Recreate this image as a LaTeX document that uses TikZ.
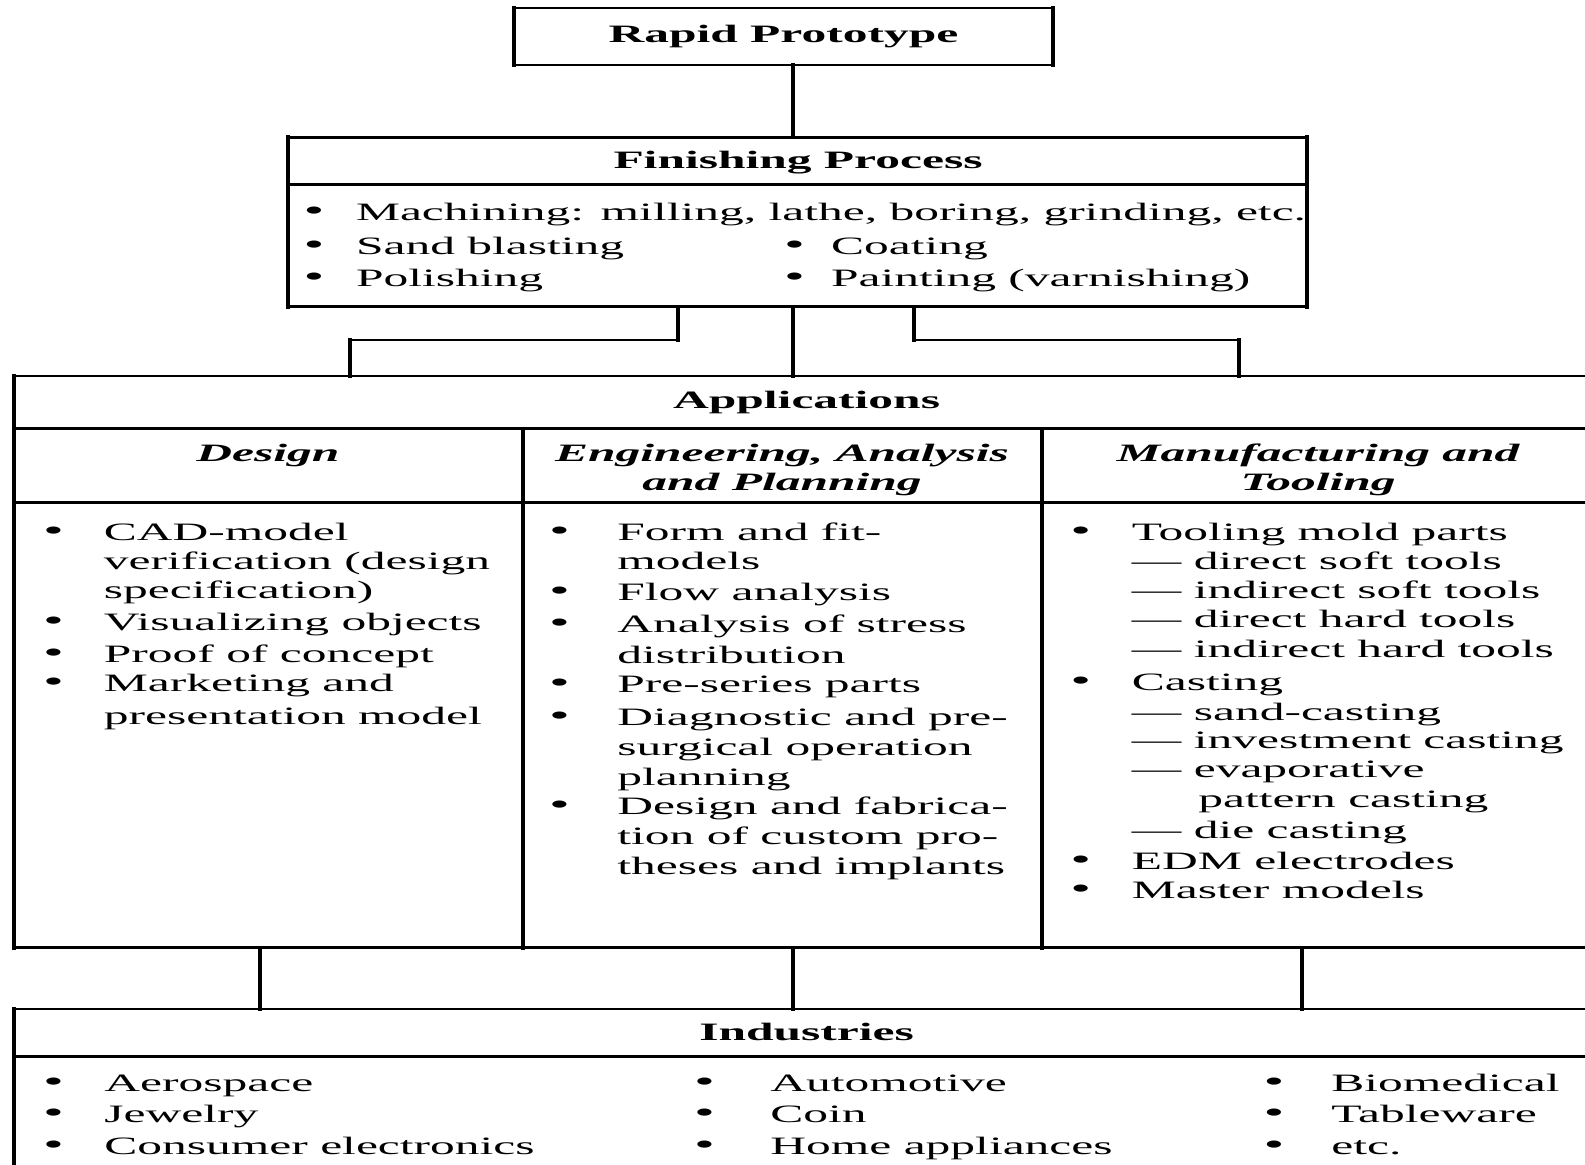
\documentclass[tikz,border=0pt]{standalone}
\usepackage{fontspec}
\setmainfont{Liberation Serif}[FakeStretch=1.98]
\newcommand{\diagfont}{\fontsize{12.5}{14.6}\selectfont}
\tikzset{
  hl/.style={line width=1.2pt, line cap=rect},
  vl/.style={line width=2pt, line cap=rect},
  box/.style={draw, hl, inner sep=0pt, outer sep=0pt},
  txt/.style={inner sep=0pt, anchor=mid west, yshift=-2.2pt, font=\diagfont},
  dot/.style={inner sep=0pt, anchor=mid, yshift=-2.2pt, font=\diagfont},
  blt/.style={dot, font=\fontsize{15}{15}\selectfont},
  ttl/.style={dot, font=\diagfont\bfseries},
  hdr/.style={dot, font=\diagfont\bfseries\itshape},
}
\begin{document}
\begin{tikzpicture}[x=0.5pt, y=-0.5pt]
\useasboundingbox (0,0) rectangle (1585,1164);
\clip (0,0) rectangle (1585,1164);

% Rapid Prototype
\node[box, font=\diagfont\bfseries, minimum width=269.9pt, minimum height=28.3pt] (rp) at (783.4,36.4) {Rapid Prototype};
\draw[vl] (rp.north west) -- (rp.south west) (rp.north east) -- (rp.south east);

% Finishing Process
\node[box, minimum width=509.5pt, minimum height=84.6pt] (fin) at (797.5,222) {};
\draw[vl] (fin.north west) -- (fin.south west) (fin.north east) -- (fin.south east);
\draw[hl] (fin.north west) ++(0,47) -- ++(1019,0);
\node[ttl] (fintitle) at (798,160) {Finishing Process};
\node[blt] (finb1) at (314,211.7) {\textbullet};
\node[txt] (fin1) at (355.6,211.7) {Machining: milling, lathe, boring, grinding, etc.};
\node[blt] (finb2) at (314,245) {\textbullet};
\node[txt] (fin2) at (355.6,245) {Sand blasting};
\node[blt] (finb3) at (314,277.3) {\textbullet};
\node[txt] (fin3) at (355.6,277.3) {Polishing};
\node[blt] (finb4) at (794.5,245) {\textbullet};
\node[txt] (fin4) at (830.6,245) {Coating};
\node[blt] (finb5) at (794.5,277.3) {\textbullet};
\node[txt] (fin5) at (830.6,277.3) {Painting (varnishing)};

% Applications
\node[box, minimum width=792.9pt, minimum height=285.75pt] (app) at (807.1,661.75) {};
\draw[vl] (app.north west) -- (app.south west);
\draw[hl] (app.north west) ++(0,52.6) -- ++(1585.8,0);
\draw[hl] (app.north west) ++(0,126.4) -- ++(1585.8,0);
\draw[vl] (522.6,428.6) -- (522.6,947.5);
\draw[vl] (1042,428.6) -- (1042,947.5);
\node[ttl] (apptitle) at (806.6,399) {Applications};
\node[hdr] (deshead) at (268,452) {Design};
\node[hdr] (enghead1) at (782,452) {Engineering, Analysis};
\node[hdr] (enghead2) at (782,481) {and Planning};
\node[hdr] (manhead1) at (1318,452) {Manufacturing and};
\node[hdr] (manhead2) at (1318,481) {Tooling};

% Design
\node[blt] (desb1) at (53.5,531.7) {\textbullet};
\node[txt] (des1) at (103.5,531.7) {CAD-model};
\node[txt] (des2) at (103.5,560) {verification (design};
\node[txt] (des3) at (103.5,589.3) {specification)};
\node[blt] (desb2) at (53.5,621.7) {\textbullet};
\node[txt] (des4) at (103.5,621.7) {Visualizing objects};
\node[blt] (desb3) at (53.5,653.3) {\textbullet};
\node[txt] (des5) at (103.5,653.3) {Proof of concept};
\node[blt] (desb4) at (53.5,682.7) {\textbullet};
\node[txt] (des6) at (103.5,682.7) {Marketing and};
\node[txt] (des7) at (103.5,715) {presentation model};

% Engineering, Analysis and Planning
\node[blt] (engb1) at (559.5,531.7) {\textbullet};
\node[txt] (eng1) at (617,531.7) {Form and fit-};
\node[txt] (eng2) at (617,560) {models};
\node[blt] (engb2) at (559.5,591.7) {\textbullet};
\node[txt] (eng3) at (617,591.7) {Flow analysis};
\node[blt] (engb3) at (559.5,623.3) {\textbullet};
\node[txt] (eng4) at (617,623.3) {Analysis of stress};
\node[txt] (eng5) at (617,654) {distribution};
\node[blt] (engb4) at (559.5,683.3) {\textbullet};
\node[txt] (eng6) at (617,683.3) {Pre-series parts};
\node[blt] (engb5) at (559.5,716) {\textbullet};
\node[txt] (eng7) at (617,716) {Diagnostic and pre-};
\node[txt] (eng8) at (617,746.7) {surgical operation};
\node[txt] (eng9) at (617,776) {planning};
\node[blt] (engb6) at (559.5,805) {\textbullet};
\node[txt] (eng10) at (617,805) {Design and fabrica-};
\node[txt] (eng11) at (617,835) {tion of custom pro-};
\node[txt] (eng12) at (617,865) {theses and implants};

% Manufacturing and Tooling
\node[blt] (manb1) at (1080.7,531.7) {\textbullet};
\node[txt] (man1) at (1131.5,531.7) {Tooling mold parts};
\node[txt] (man2) at (1131.5,560) {\textemdash\ direct soft tools};
\node[txt] (man3) at (1131.5,589.3) {\textemdash\ indirect soft tools};
\node[txt] (man4) at (1131.5,618.3) {\textemdash\ direct hard tools};
\node[txt] (man5) at (1131.5,648.3) {\textemdash\ indirect hard tools};
\node[blt] (manb2) at (1080.7,681.7) {\textbullet};
\node[txt] (man6) at (1131.5,681.7) {Casting};
\node[txt] (man7) at (1131.5,711.7) {\textemdash\ sand-casting};
\node[txt] (man8) at (1131.5,739.3) {\textemdash\ investment casting};
\node[txt] (man9) at (1131.5,768.3) {\textemdash\ evaporative};
\node[txt] (man10) at (1198,798.3) {pattern casting};
\node[txt] (man11) at (1131.5,829.3) {\textemdash\ die casting};
\node[blt] (manb3) at (1080.7,860) {\textbullet};
\node[txt] (man12) at (1131.5,860) {EDM electrodes};
\node[blt] (manb4) at (1080.7,889.3) {\textbullet};
\node[txt] (man13) at (1131.5,889.3) {Master models};

% Industries
\node[box, minimum width=792.9pt, minimum height=90pt] (ind) at (807.1,1099) {};
\draw[vl] (ind.north west) -- (ind.south west);
\draw[hl] (ind.north west) ++(0,47.3) -- ++(1585.8,0);
\node[ttl] (indtitle) at (806.6,1031) {Industries};
\node[blt] (indb1) at (53.5,1082) {\textbullet};
\node[txt] (ind1) at (104,1082) {Aerospace};
\node[blt] (indb2) at (53.5,1113.5) {\textbullet};
\node[txt] (ind2) at (104,1113.5) {Jewelry};
\node[blt] (indb3) at (53.5,1145) {\textbullet};
\node[txt] (ind3) at (104,1145) {Consumer electronics};
\node[blt] (indb4) at (704.5,1082) {\textbullet};
\node[txt] (ind4) at (770,1082) {Automotive};
\node[blt] (indb5) at (704.5,1113.5) {\textbullet};
\node[txt] (ind5) at (770,1113.5) {Coin};
\node[blt] (indb6) at (704.5,1145) {\textbullet};
\node[txt] (ind6) at (770,1145) {Home appliances};
\node[blt] (indb7) at (1274,1082) {\textbullet};
\node[txt] (ind7) at (1331,1082) {Biomedical};
\node[blt] (indb8) at (1274,1113.5) {\textbullet};
\node[txt] (ind8) at (1331,1113.5) {Tableware};
\node[blt] (indb9) at (1274,1145) {\textbullet};
\node[txt] (ind9) at (1331,1145) {etc.};

% Connectors
\coordinate (spine) at (792.5,0);
\coordinate (lk) at (677.5,339.8);
\coordinate (lb) at (350,339.8);
\coordinate (rk) at (913.5,339.8);
\coordinate (rb) at (1239.3,339.8);
\coordinate (ia) at (259.8,0);
\coordinate (ib) at (1302,0);
\draw[vl] (rp.south -| spine) -- (fin.north -| spine);
\draw[vl] (fin.south -| spine) -- (app.north -| spine);
\draw[vl] (fin.south -| lk) -- (lk);
\draw[hl] (lk) -- (lb);
\draw[vl] (lb) -- (app.north -| lb);
\draw[vl] (fin.south -| rk) -- (rk);
\draw[hl] (rk) -- (rb);
\draw[vl] (rb) -- (app.north -| rb);
\draw[vl] (app.south -| ia) -- (ind.north -| ia);
\draw[vl] (app.south -| spine) -- (ind.north -| spine);
\draw[vl] (app.south -| ib) -- (ind.north -| ib);
\end{tikzpicture}
\end{document}
